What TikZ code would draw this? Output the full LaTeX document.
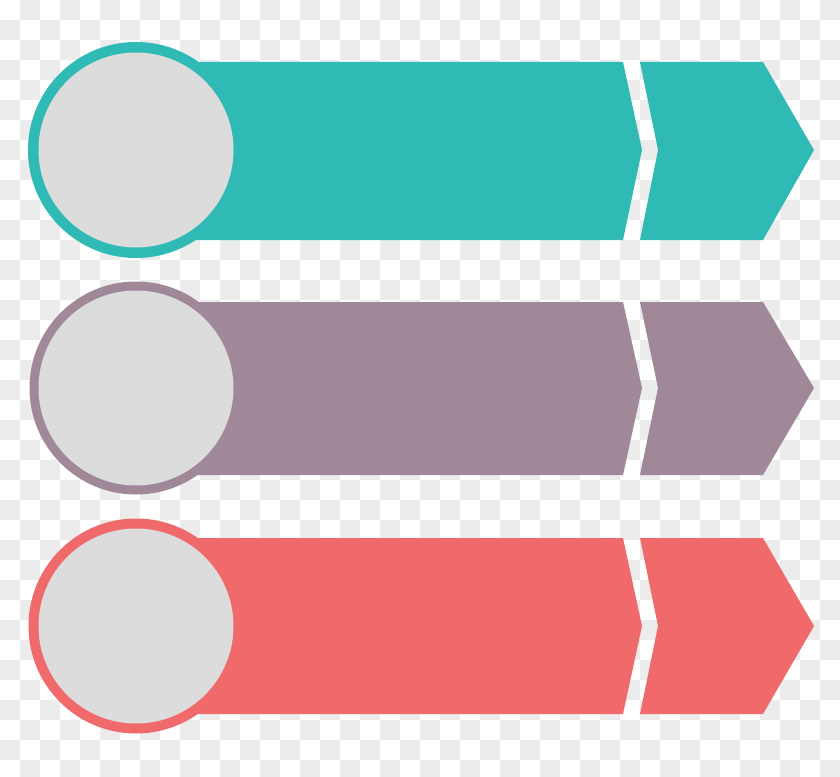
\documentclass[tikz,border=0pt]{standalone}
\usepackage{tikz}

\definecolor{tealband}{HTML}{2FBAB5}
\definecolor{mauveband}{HTML}{A08898}
\definecolor{coralband}{HTML}{F0696B}
\definecolor{discgray}{HTML}{DCDCDC}
\definecolor{checkgray}{HTML}{ECECEC}

\begin{document}
\begin{tikzpicture}[x=1pt,y=-1pt]

\useasboundingbox (0,0) rectangle (840,776);
\clip (0,0) rectangle (840,776);

% checkerboard background
\fill[white] (0,0) rectangle (840,776);
\foreach \i in {0,...,41}
  \foreach \j in {0,...,38}{
    \pgfmathtruncatemacro\odd{mod(\i+\j,2)}
    \ifnum\odd=1 \fill[checkgray] (20*\i,20*\j) rectangle ++(20,20); \fi
  }

% three bands: centre y / top / bottom / ring radius / colour
\foreach \cy/\ht/\hb/\ro/\col in {150/62/240/108/tealband,388/302/475/106.5/mauveband,626/538/714/107.5/coralband}{
  \coordinate (c) at (136,\cy);
  \fill[\col] (136,\ht) -- (623,\ht) -- (642,\cy) -- (623,\hb) -- (136,\hb) -- cycle;
  \fill[\col] (640,\ht) -- (763,\ht) -- (814,\cy) -- (763,\hb) -- (640,\hb) -- (658,\cy) -- cycle;
  \fill[\col] (c) circle (\ro pt);
  \fill[discgray] (c) circle (97.5pt);
}

\end{tikzpicture}
\end{document}
